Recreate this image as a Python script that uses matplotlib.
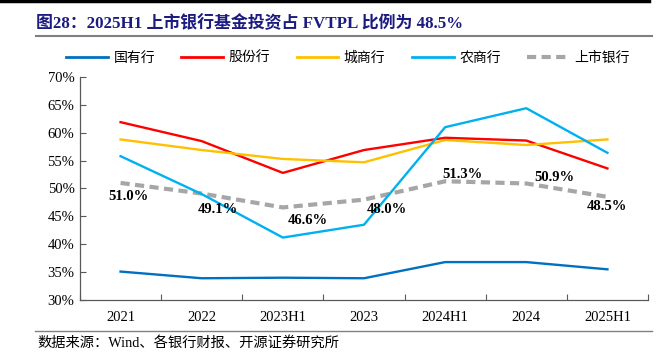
import matplotlib
matplotlib.use("Agg")
import matplotlib.pyplot as plt
from matplotlib.lines import Line2D
import numpy as np

# data (%)
periods = ["2021", "2022", "2023H1", "2023", "2024H1", "2024", "2025H1"]
state_banks = [35.1, 33.9, 34.0, 33.9, 36.8, 36.8, 35.5]
joint_stock = [61.9, 58.5, 52.8, 56.9, 59.1, 58.6, 53.6]
city_banks = [58.8, 56.9, 55.3, 54.7, 58.7, 57.8, 58.8]
rural_banks = [55.8, 49.0, 41.2, 43.5, 61.0, 64.4, 56.4]
listed_banks = [51.0, 49.1, 46.6, 48.0, 51.3, 50.9, 48.5]

series_names = ["国有行", "股份行", "城商行", "农商行", "上市银行"]
colors = ["#0070C0", "#FF0000", "#FFC000", "#00B0F0", "#A6A6A6"]

# label offsets (pixels) for the listed-bank values
label_offsets = [(8, -14), (16, -16), (25, -13), (23, -10), (17, 7), (28, 6), (0, -10)]

serif_cjk = ["Liberation Serif", "Noto Sans CJK SC"]

fig = plt.figure(figsize=(6.71, 3.64), dpi=100)
W, H = 671, 364
ax = fig.add_axes([80 / W, 1 - 300 / H, (648 - 80) / W, (300 - 77) / H])

x = np.arange(len(periods))
all_series = [state_banks, joint_stock, city_banks, rural_banks]
for vals, c, name in zip(all_series, colors[:4], series_names[:4]):
    ax.plot(x, vals, color=c, lw=1.7, label=name, zorder=3)
ax.plot(x, listed_banks, color=colors[4], lw=3, ls=(0, (2.2, 1.3)),
        label=series_names[4], zorder=2)

for xi, v, (dx, dy) in zip(x, listed_banks, label_offsets):
    ax.annotate(f"{v:.1f}%", (xi, v), xytext=(dx, dy), textcoords="offset pixels",
                ha="center", va="center", fontsize=10.5, fontweight="bold",
                family="Liberation Serif", color="black", zorder=5)

ax.set_xlim(-0.5, len(periods) - 0.5)
ax.set_ylim(30, 70)
ax.set_yticks(np.arange(30, 71, 5))
ax.set_yticklabels([f"{v}%" for v in range(30, 71, 5)], family="Liberation Serif", fontsize=10.5)
ax.set_xticks(np.arange(-0.5, len(periods)), labels=[])
ax.set_xticks(x, labels=periods, minor=True)
for lab in ax.get_xticklabels(minor=True):
    lab.set_family("Liberation Serif")
    lab.set_fontsize(10.5)
ax.tick_params(axis="x", which="major", direction="in", length=4, color="#595959")
ax.tick_params(axis="x", which="minor", length=0, pad=8)
ax.tick_params(axis="y", direction="in", length=4, color="#595959", pad=4)
for s in ["top", "right"]:
    ax.spines[s].set_visible(False)
for s in ["left", "bottom"]:
    ax.spines[s].set_color("#595959")
    ax.spines[s].set_linewidth(0.9)

# legend
handles = [Line2D([], [], color=c, lw=2) for c in colors[:4]]
handles.append(Line2D([], [], color=colors[4], lw=3, ls=(0, (2.2, 1.3))))
fig.legend(handles, series_names, loc="center", bbox_to_anchor=(348 / W, 1 - 58 / H),
           ncol=5, frameon=False, handlelength=3.0, handletextpad=0.4,
           columnspacing=1.9, prop={"family": "Noto Sans CJK SC", "size": 10})

# title, rules and source
fig.add_artist(Line2D([0, 649 / W], [1 - 1 / H, 1 - 1 / H], color="black", lw=2.5))
fig.text(36 / W, 1 - 24 / H, "图28：2025H1 上市银行基金投资占 FVTPL 比例为 48.5%",
         family=serif_cjk, fontweight="bold", fontsize=12.2, color="#1B1B80",
         ha="left", va="center")
fig.add_artist(Line2D([36 / W, 652 / W], [1 - 36 / H, 1 - 36 / H], color="#808080", lw=1.5))
fig.add_artist(Line2D([35 / W, 652 / W], [1 - 331 / H, 1 - 331 / H], color="#808080", lw=1))
fig.text(37 / W, 1 - 343 / H, "数据来源：Wind、各银行财报、开源证券研究所",
         family=serif_cjk, fontsize=10.3, color="black", ha="left", va="center")

fig.savefig("out.png", dpi=100)
